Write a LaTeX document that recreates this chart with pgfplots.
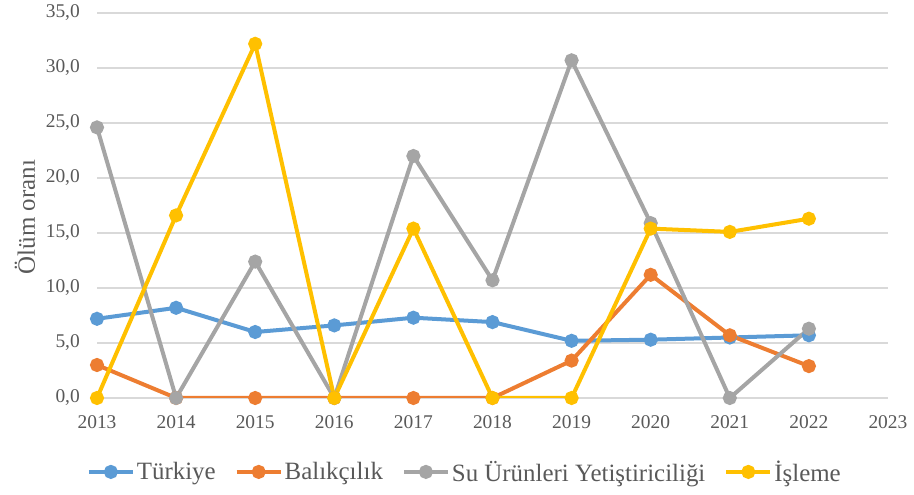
\documentclass[border=0pt]{standalone}
\usepackage{fontspec}
\setmainfont{Liberation Serif}
\usepackage{pgfplots}
\pgfplotsset{compat=1.18}
\definecolor{cBlue}{HTML}{5B9BD5}
\definecolor{cOrange}{HTML}{ED7D31}
\definecolor{cGray}{HTML}{A5A5A5}
\definecolor{cYellow}{HTML}{FFC000}
\definecolor{txt}{HTML}{595959}
\definecolor{grd}{HTML}{D9D9D9}
\begin{document}
\begin{tikzpicture}
\useasboundingbox (0,0) rectangle (914bp,495bp);
\begin{axis}[
  at={(97bp,97bp)}, anchor=south west,
  scale only axis, width=791bp, height=385bp,
  xmin=2013, xmax=2023, ymin=0, ymax=35,
  xtick={2013,2014,...,2023}, ytick={0,5,...,35},
  ymajorgrids, grid style={grd, line width=1.3bp},
  axis line style={draw=none}, tick style={draw=none},
  /pgf/number format/assume math mode=true,
  xticklabel style={/pgf/number format/1000 sep=, font=\rmfamily\fontsize{19.5}{22}\selectfont, text=txt, anchor=north, inner sep=0pt},
  yticklabel style={/pgf/number format/.cd, fixed, fixed zerofill, precision=1, use comma, /tikz/.cd, font=\rmfamily\fontsize{19.5}{22}\selectfont, text=txt, anchor=east, inner sep=0pt},
  xticklabel shift=17bp, yticklabel shift=17bp,
  ylabel={Ölüm oranı},
  ylabel style={at={(axis description cs:-0.091,0.47)}, anchor=center, font=\rmfamily\fontsize{25}{28}\selectfont, text=txt},
  legend columns=4,
  legend style={at={(0.465,-0.192)}, anchor=center, draw=none, fill=none,
    font=\rmfamily\fontsize{25}{28}\selectfont, text=txt,
    /tikz/every even column/.append style={column sep=17bp}},
  legend image code/.code={\draw[#1, mark repeat=2, mark phase=2] plot coordinates {(0bp,0bp)(22bp,0bp)(44bp,0bp)};},
  every axis plot/.append style={line width=4bp, mark=*, mark size=5bp},
]
\addplot[cBlue, mark options={fill=cBlue, draw=cBlue}] coordinates {(2013,7.2)(2014,8.2)(2015,6.0)(2016,6.6)(2017,7.3)(2018,6.9)(2019,5.2)(2020,5.3)(2021,5.5)(2022,5.7)};
\addlegendentry{Türkiye}
\addplot[cOrange, mark options={fill=cOrange, draw=cOrange}] coordinates {(2013,3.0)(2014,0)(2015,0)(2016,0)(2017,0)(2018,0)(2019,3.4)(2020,11.2)(2021,5.7)(2022,2.9)};
\addlegendentry{Balıkçılık}
\addplot[cGray, mark options={fill=cGray, draw=cGray}] coordinates {(2013,24.6)(2014,0)(2015,12.4)(2016,0)(2017,22.0)(2018,10.7)(2019,30.7)(2020,15.9)(2021,0)(2022,6.3)};
\addlegendentry{Su Ürünleri Yetiştiriciliği}
\addplot[cYellow, mark options={fill=cYellow, draw=cYellow}] coordinates {(2013,0)(2014,16.6)(2015,32.2)(2016,0)(2017,15.4)(2018,0)(2019,0)(2020,15.4)(2021,15.1)(2022,16.3)};
\addlegendentry{İşleme}
\end{axis}
\end{tikzpicture}
\end{document}
